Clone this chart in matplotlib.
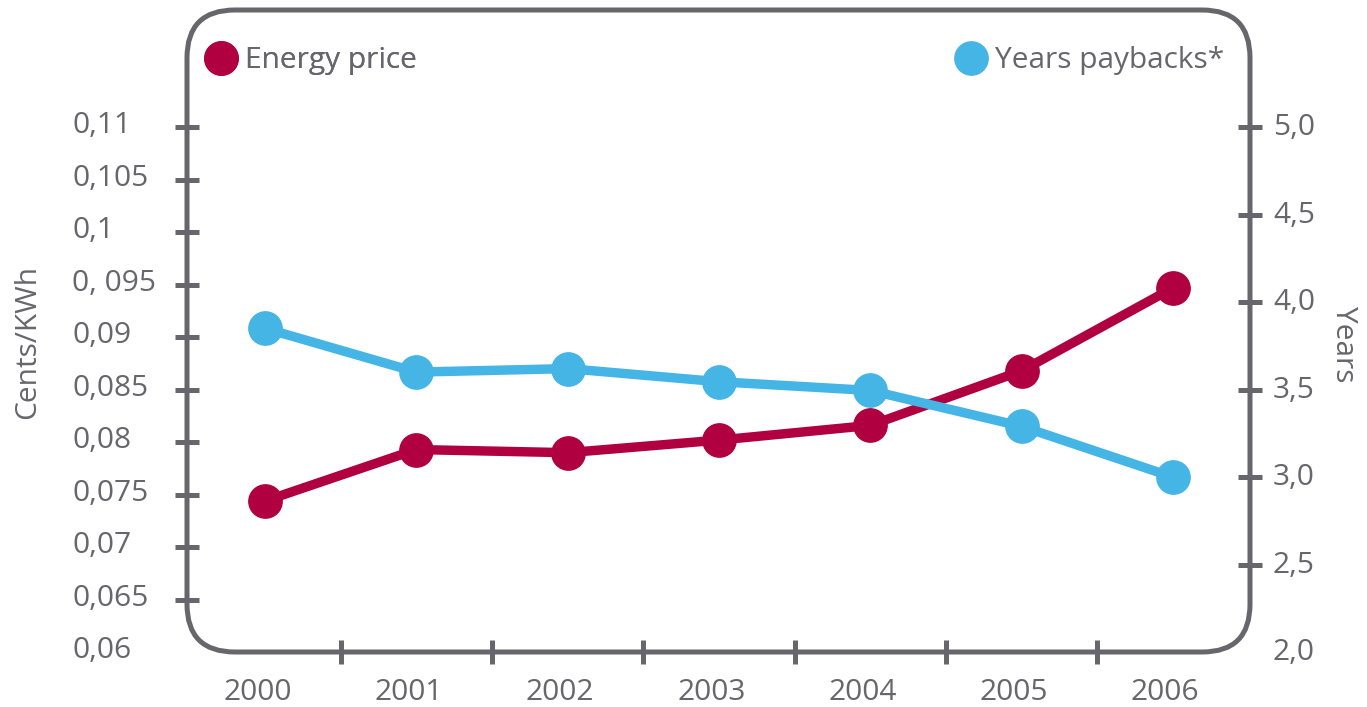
import matplotlib
matplotlib.use("Agg")
import matplotlib.pyplot as plt
from matplotlib.patches import FancyBboxPatch
from matplotlib.lines import Line2D
import matplotlib.transforms as mtransforms

plt.rcParams['font.family'] = ['Open Sans', 'DejaVu Sans']

# data
years = ["2000", "2001", "2002", "2003", "2004", "2005", "2006"]
energy_price = [0.0744, 0.0793, 0.0790, 0.0802, 0.0816, 0.0868, 0.0947]
payback_years = [3.85, 3.60, 3.62, 3.545, 3.495, 3.29, 3.00]

left_ticks = [0.06, 0.065, 0.07, 0.075, 0.08, 0.085, 0.09, 0.095, 0.1, 0.105, 0.11]
left_labels = ["0,06", "0,065", "0,07", "0,075", "0,08", "0,085", "0,09", "0, 095", "0,1", "0,105", "0,11"]
right_ticks = [2.0, 2.5, 3.0, 3.5, 4.0, 4.5, 5.0]
right_labels = ["2,0", "2,5", "3,0", "3,5", "4,0", "4,5", "5,0"]

red = "#B0003F"
blue = "#45B5E6"
grey = "#66666C"
fs = 21.5

fig = plt.figure(figsize=(13.67, 7.07), dpi=100)
ax = fig.add_axes([187/1367, 55/707, 1063/1367, 642/707])
ax2 = ax.twinx()

x = list(range(len(years)))
ax.plot(x, energy_price, color=red, lw=6.8, marker='o', ms=24, solid_joinstyle='round', solid_capstyle='round', zorder=3)
ax2.plot(x, payback_years, color=blue, lw=6.8, marker='o', ms=24, solid_joinstyle='round', solid_capstyle='round', zorder=3)

ax.set_xlim(-0.516, 6.51)
ax.set_ylim(0.0605, 0.1212)
ax2.set_ylim(2.023, 5.67)

for a in (ax, ax2):
    for s in a.spines.values():
        s.set_visible(False)

# rounded frame
frame = FancyBboxPatch((0, 0), 1, 1, boxstyle="round,pad=0,rounding_size=0.045",
                       mutation_aspect=1063/642, transform=ax.transAxes,
                       fill=False, ec=grey, lw=3.6, clip_on=False, zorder=5)
ax.add_patch(frame)

# y ticks left
ax.set_yticks(left_ticks)
ax.set_yticklabels(left_labels)
ax.tick_params(axis='y', direction='inout', length=17, width=3.6, color=grey,
               labelcolor=grey, labelsize=fs, pad=74)
for lab in ax.get_yticklabels():
    lab.set_horizontalalignment('left')
    lab.set_transform(lab.get_transform() + mtransforms.ScaledTranslation(0, 5/100, fig.dpi_scale_trans))
ax.yaxis.get_major_ticks()[0].tick1line.set_visible(False)

# y ticks right
ax2.set_yticks(right_ticks)
ax2.set_yticklabels(right_labels)
ax2.tick_params(axis='y', direction='inout', length=17, width=3.6, color=grey,
                labelcolor=grey, labelsize=fs, pad=8)
for lab in ax2.get_yticklabels():
    lab.set_transform(lab.get_transform() + mtransforms.ScaledTranslation(0, 3/100, fig.dpi_scale_trans))
ax2.yaxis.get_major_ticks()[0].tick2line.set_visible(False)

# x ticks between categories, labels at categories
ax.set_xticks([i + 0.5 for i in x[:-1]])
ax.set_xticklabels([])
ax.set_xticks([i - 0.05 for i in x], minor=True)
ax.set_xticklabels(years, minor=True)
ax.tick_params(axis='x', which='major', direction='inout', length=17, width=3.6, color=grey)
ax.tick_params(axis='x', which='minor', length=0, labelcolor=grey, labelsize=fs, pad=19)

# axis titles
fig.text(28/1367, 1 - 342/707, "Cents/KWh", rotation=90, ha='center', va='center', color=grey, fontsize=fs)
fig.text(1343/1367, 1 - 344/707, "Years", rotation=270, ha='center', va='center', color=grey, fontsize=fs)

# legends
h1 = [Line2D([], [], marker='o', ls='none', color=red, ms=24)]
h2 = [Line2D([], [], marker='o', ls='none', color=blue, ms=24)]
leg1 = ax.legend(h1, ["Energy price"], loc='center left', bbox_to_anchor=(0.017, 0.921),
                 frameon=False, fontsize=fs, labelcolor=grey, handlelength=1.1,
                 handletextpad=0.25, borderpad=0, borderaxespad=0)
ax.add_artist(leg1)
leg2 = ax2.legend(h2, ["Years paybacks*"], loc='center right', bbox_to_anchor=(0.976, 0.921),
                  frameon=False, fontsize=fs, labelcolor=grey, handlelength=1.1,
                  handletextpad=0.25, borderpad=0, borderaxespad=0)

fig.savefig("out.png", dpi=100)
